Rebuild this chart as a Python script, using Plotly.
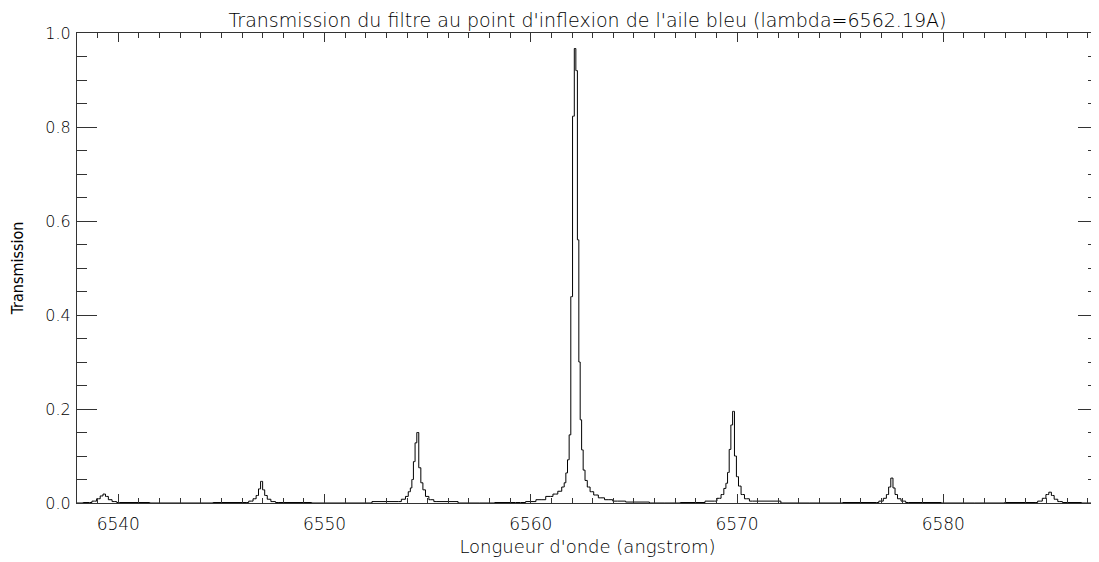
import plotly.graph_objects as go

# Wavelength samples (angstrom) and transmission
wavelength = [
    6538.00, 6538.60, 6538.85, 6539.05, 6539.20, 6539.32, 6539.44, 6539.60, 6539.80, 6540.05,
    6543.00, 6546.20, 6546.45, 6546.62, 6546.75, 6546.85, 6546.95, 6547.05, 6547.15, 6547.30,
    6547.50, 6547.75, 6551.00, 6553.60, 6553.85, 6554.00, 6554.12, 6554.20, 6554.27, 6554.35,
    6554.43, 6554.52, 6554.62, 6554.72, 6554.82, 6554.97, 6555.15, 6555.45, 6557.50, 6559.00,
    6559.50, 6560.00, 6560.50, 6560.95, 6561.20, 6561.42, 6561.58, 6561.66, 6561.74, 6561.82,
    6561.90, 6561.98, 6562.07, 6562.15, 6562.22, 6562.30, 6562.36, 6562.43, 6562.50, 6562.58,
    6562.68, 6562.80, 6562.95, 6563.15, 6563.40, 6563.75, 6564.20, 6565.00, 6566.50, 6568.00,
    6568.90, 6569.15, 6569.30, 6569.42, 6569.50, 6569.58, 6569.66, 6569.74, 6569.83, 6569.92,
    6570.02, 6570.12, 6570.27, 6570.45, 6570.75, 6573.50, 6576.75, 6577.00, 6577.18, 6577.30,
    6577.40, 6577.51, 6577.61, 6577.71, 6577.85, 6578.05, 6578.30, 6581.50, 6584.45, 6584.70,
    6584.90, 6585.05, 6585.18, 6585.30, 6585.45, 6585.65, 6585.90, 6587.50,
]
transmission = [
    0.000, 0.001, 0.004, 0.009, 0.015, 0.019, 0.014, 0.007, 0.003, 0.001,
    0.000, 0.001, 0.004, 0.009, 0.016, 0.030, 0.046, 0.028, 0.016, 0.008,
    0.003, 0.001, 0.000, 0.003, 0.008, 0.014, 0.024, 0.032, 0.050, 0.088,
    0.128, 0.150, 0.075, 0.043, 0.028, 0.014, 0.007, 0.003, 0.000, 0.001,
    0.001, 0.003, 0.007, 0.014, 0.019, 0.025, 0.034, 0.043, 0.064, 0.092,
    0.145, 0.439, 0.823, 0.967, 0.920, 0.560, 0.300, 0.177, 0.113, 0.070,
    0.048, 0.034, 0.024, 0.017, 0.011, 0.007, 0.004, 0.002, 0.000, 0.001,
    0.004, 0.010, 0.018, 0.031, 0.042, 0.065, 0.114, 0.166, 0.195, 0.100,
    0.056, 0.036, 0.018, 0.009, 0.004, 0.000, 0.001, 0.004, 0.010, 0.018,
    0.034, 0.053, 0.032, 0.018, 0.009, 0.004, 0.001, 0.000, 0.001, 0.004,
    0.010, 0.018, 0.023, 0.016, 0.008, 0.003, 0.001, 0.000,
]

x_range = [6538.0, 6587.5]
y_range = [0.0, 1.0]
x_tickvals = [6540, 6550, 6560, 6570, 6580]
y_tickvals = [0.0, 0.2, 0.4, 0.6, 0.8, 1.0]

TITLE = "Transmission du filtre au point d'inflexion de l'aile bleu (lambda=6562.19A)"
XTITLE = "Longueur d'onde (angstrom)"
YTITLE = "Transmission"

FONT = "DejaVu Sans"
AX = "#333333"
W, H = 1091, 554   # page body has an 8px margin inside the 1099x562 window

fig = go.Figure()
fig.add_trace(go.Scatter(
    x=wavelength, y=transmission, mode="lines",
    line=dict(color="black", width=1, shape="hvh"),
    showlegend=False, hoverinfo="skip",
))
# empty trace so the mirrored (top/right) tick axes are drawn
fig.add_trace(go.Scatter(x=[], y=[], xaxis="x2", yaxis="y2",
                         showlegend=False, hoverinfo="skip"))

common = dict(showgrid=False, zeroline=False, showline=True, linecolor=AX,
              linewidth=1, ticks="inside", tickwidth=1, tickcolor=AX,
              automargin=False, fixedrange=True)
xminor = dict(dtick=1, ticks="inside", ticklen=5, tickwidth=1, tickcolor=AX)
yminor = dict(dtick=0.05, ticks="inside", ticklen=10, tickwidth=1, tickcolor=AX)

fig.update_layout(
    width=W, height=H,
    margin=dict(l=69, r=1, t=25, b=59, autoexpand=False),
    paper_bgcolor="white", plot_bgcolor="white",
    title=dict(text=TITLE, x=0.5, xref="paper", xanchor="center",
               y=1 - 12 / H, yref="container", yanchor="middle",
               font=dict(family=FONT, size=19, color="black", weight=200)),
    xaxis=dict(
        **common, range=x_range, ticklen=9,
        tickvals=x_tickvals, ticktext=[str(v) for v in x_tickvals],
        tickfont=dict(family=FONT, size=17, color="black", weight=200),
        ticklabelstandoff=6, minor=xminor,
        title=dict(text=XTITLE, standoff=6,
                   font=dict(family=FONT, size=18, color="black", weight=200)),
    ),
    xaxis2=dict(
        **common, range=x_range, ticklen=9, overlaying="x", side="top",
        tickvals=x_tickvals, showticklabels=False, minor=xminor,
    ),
    yaxis=dict(
        **common, range=y_range, ticklen=20,
        tickvals=y_tickvals, ticktext=[f"{v:.1f}" for v in y_tickvals],
        tickfont=dict(family=FONT, size=16, color="black", weight=200),
        ticklabelstandoff=2, minor=yminor,
        title=dict(text=YTITLE, standoff=18,
                   font=dict(family="Liberation Sans Narrow, DejaVu Sans Condensed, Liberation Sans",
                             size=16, color="black")),
    ),
    yaxis2=dict(
        **common, range=y_range, ticklen=20, overlaying="y", side="right",
        tickvals=y_tickvals, showticklabels=False, minor=yminor,
    ),
)

fig.write_html("out.html")
